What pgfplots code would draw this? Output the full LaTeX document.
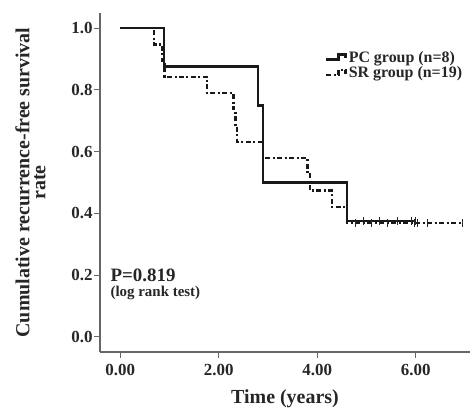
\documentclass[border=0pt]{standalone}
\usepackage{pgfplots}
\pgfplotsset{compat=1.18}
\usepackage{fontspec}
\setmainfont{Liberation Serif}
\begin{document}
\begin{tikzpicture}
\begin{axis}[
  scale only axis, width=370bp, height=339bp,
  xmin=-0.41, xmax=7.1, ymin=-0.049, ymax=1.049,
  axis lines*=left,
  axis line style={black!60, line width=1.2pt},
  xtick={0,2,4,6}, ytick={0,0.2,0.4,0.6,0.8,1.0},
  xticklabels={0.00,2.00,4.00,6.00},
  yticklabels={0.0,0.2,0.4,0.6,0.8,1.0},
  tick style={black!60, line width=1.2pt},
  tick align=outside, major tick length=6bp,
  ticklabel style={font=\fontsize{17}{19}\selectfont\bfseries, text=black!85},
  xticklabel style={yshift=-3bp},
  yticklabel style={xshift=2bp},
  xlabel={Time (years)},
  ylabel={Cumulative recurrence-free survival\\rate},
  label style={font=\fontsize{20}{16}\selectfont\bfseries, text=black!85, align=center},
  xlabel style={at={(axis description cs:0.5,0)}, anchor=center, yshift=-47bp},
  ylabel style={at={(axis description cs:0,0.5)}, anchor=south, yshift=51bp},
  legend style={draw=none, fill=none, at={(rel axis cs:0.6,0.9)}, anchor=north west,
    font=\fontsize{16}{18}\selectfont\bfseries, text=black!85, row sep=-1bp},
  legend cell align=left,
  legend image code/.code={\draw[#1] (0bp,-2bp) -- (12bp,-2bp) -- (12bp,3bp) -- (19bp,3bp) -- (19bp,-1bp);},
]
\addplot[const plot, black!90, line width=2.6pt] coordinates {
 (0,1) (0.89,0.875) (2.8,0.75) (2.9,0.5) (4.6,0.375) (6.0,0.375)};
\addlegendentry{PC group (n=8)}
\addplot[const plot, black!90, line width=2.2pt, dash pattern=on 5pt off 2.5pt on 2pt off 2.5pt] coordinates {
 (0,1) (0.68,0.947) (0.85,0.895) (0.9,0.842) (1.77,0.789) (2.3,0.737) (2.34,0.684) (2.37,0.632)
 (2.9,0.579) (3.8,0.526) (3.85,0.474) (4.3,0.421) (4.6,0.368) (6.94,0.368)};
\addlegendentry{SR group (n=19)}
\addplot[only marks, mark=|, mark size=4bp, black!85, line width=1pt, forget plot] coordinates {
 (4.93,0.375) (5.27,0.375) (5.62,0.375) (5.92,0.375) (6.0,0.375)};
\addplot[only marks, mark=|, mark size=4bp, black!85, line width=1pt, forget plot] coordinates {
 (4.77,0.368) (5.1,0.368) (5.43,0.368) (5.98,0.368) (6.04,0.368) (6.23,0.368) (6.94,0.368)};
\node[anchor=north west, align=left, text=black!85, inner sep=0pt] at (axis cs:-0.2,0.222)
  {{\fontsize{19}{19}\selectfont\bfseries P=0.819}\\[3bp]{\fontsize{15}{15}\selectfont\bfseries (log rank test)}};
\end{axis}
\pgfresetboundingbox
\path ([shift={(-100bp,-58bp)}]current axis.south west) rectangle ([shift={(0bp,13bp)}]current axis.north east);
\end{tikzpicture}
\end{document}
